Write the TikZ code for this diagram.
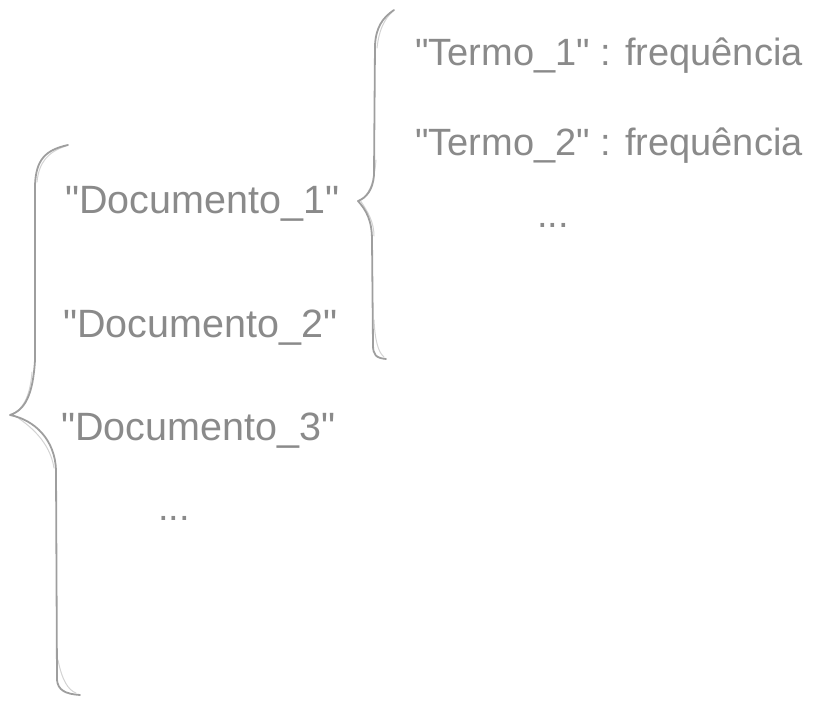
\documentclass[tikz,border=0pt]{standalone}
\usepackage{fontspec}
\setmainfont{Liberation Sans}[Ligatures=TeXOff]
\usepackage{tikz}
\definecolor{txt}{HTML}{8A8A8A}
\definecolor{brace}{HTML}{9E9E9E}

\begin{document}
\begin{tikzpicture}[x=1pt,y=-1pt,
        word/.style={anchor=base west,inner sep=0pt,text=txt,font=\fontsize{38}{46}\selectfont},
        docword/.style={word,font=\fontsize{39.5}{47}\selectfont},
        dots/.style={anchor=base,inner sep=0pt,text=txt,font=\fontsize{38}{46}\selectfont},
        sketch/.style={draw=brace,line width=1.8pt,line cap=round,line join=round},
        sketchlight/.style={draw=brace,opacity=0.45,line width=1pt,line cap=round}]
        \useasboundingbox (0,0) rectangle (823,704);

        \path
        (415,65) node[word](t1) {"Termo\_1" : frequência}
        (415,155) node[word](t2) {"Termo\_2" : frequência}
        (553,227) node[dots](tdots) {...}
        ;

        \path
        (65,213) node[docword](d1) {"Documento\_1"}
        (63,337) node[docword](d2) {"Documento\_2"}
        (61,440) node[docword](d3) {"Documento\_3"}
        (174,520) node[dots](ddots) {...}
        ;

        % outer brace
        \draw[sketch] (68,145) .. controls (45,150) and (36,160) .. (35,185)
                -- (35,360) .. controls (33,395) and (25,410) .. (10,415)
                .. controls (35,420) and (55,440) .. (56,470)
                -- (57,680) .. controls (58,690) and (65,694) .. (80,695);
        \draw[sketchlight] (66,146) .. controls (48,152) and (39,162) .. (37,182)
                (32,372) .. controls (30,398) and (22,410) .. (12,414)
                .. controls (30,425) and (50,442) .. (54,468)
                (58,660) .. controls (62,680) and (68,690) .. (76,693);

        % inner brace
        \draw[sketch] (394,10) .. controls (382,18) and (376,28) .. (375,45)
                -- (374,175) .. controls (373,190) and (366,198) .. (358,201)
                .. controls (366,210) and (372,220) .. (372,240)
                -- (373,345) .. controls (373,355) and (376,358) .. (386,359);
        \draw[sketchlight] (392,12) .. controls (384,20) and (379,30) .. (377,48)
                (376,160) .. controls (374,185) and (368,196) .. (360,200)
                .. controls (368,212) and (374,222) .. (374,236)
                (374,320) .. controls (375,340) and (378,352) .. (384,357);
\end{tikzpicture}
\end{document}
